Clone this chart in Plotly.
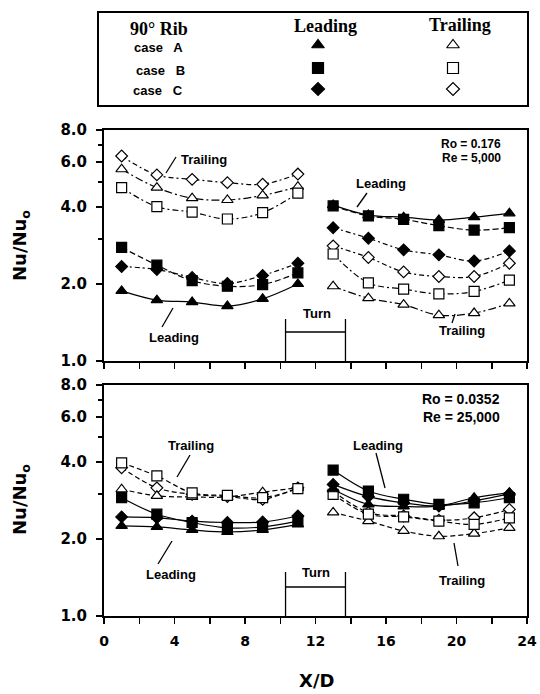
import math
import plotly.graph_objects as go

W, H = 540, 694

# ---------------- data ----------------
x_pos = [1, 3, 5, 7, 9, 11, 13, 15, 17, 19, 21, 23]

# Top panel: Ro = 0.176, Re = 5,000
top_lead_A = [1.88, 1.73, 1.70, 1.64, 1.75, 2.00, 4.07, 3.72, 3.65, 3.56, 3.65, 3.78]
top_lead_B = [2.78, 2.37, 2.06, 1.96, 1.99, 2.21, 4.04, 3.69, 3.58, 3.38, 3.25, 3.32]
top_lead_C = [2.34, 2.28, 2.12, 2.01, 2.16, 2.41, 3.32, 3.02, 2.72, 2.60, 2.46, 2.69]
top_trail_A = [5.62, 4.76, 4.33, 4.26, 4.44, 4.80, 1.96, 1.76, 1.66, 1.51, 1.54, 1.68]
top_trail_B = [4.76, 4.01, 3.82, 3.59, 3.80, 4.53, 2.62, 2.02, 1.91, 1.83, 1.87, 2.07]
top_trail_C = [6.33, 5.34, 5.13, 4.98, 4.91, 5.38, 2.82, 2.54, 2.23, 2.14, 2.14, 2.41]

# Bottom panel: Ro = 0.0352, Re = 25,000
bot_lead_A = [2.25, 2.23, 2.17, 2.13, 2.17, 2.28, 3.13, 2.73, 2.68, 2.69, 2.90, 3.03]
bot_lead_B = [2.90, 2.50, 2.32, 2.21, 2.23, 2.35, 3.72, 3.08, 2.86, 2.73, 2.77, 2.90]
bot_lead_C = [2.44, 2.42, 2.35, 2.32, 2.33, 2.46, 3.27, 2.93, 2.77, 2.69, 2.82, 3.00]
bot_trail_A = [3.13, 2.95, 2.92, 2.92, 3.05, 3.17, 2.54, 2.35, 2.15, 2.05, 2.10, 2.21]
bot_trail_B = [3.97, 3.53, 3.03, 2.96, 2.90, 3.15, 2.99, 2.50, 2.44, 2.35, 2.28, 2.42]
bot_trail_C = [3.80, 3.17, 2.99, 2.93, 2.86, 3.17, 3.08, 2.54, 2.46, 2.37, 2.42, 2.61]

turn_x = [10.3, 13.7]

x_major = [0, 4, 8, 12, 16, 20, 24]
x_major_text = ["0", "4", "8", "12", "16", "20", "24"]
x_minor = [2, 6, 10, 14, 18, 22]
y_major = [1, 2, 4, 6, 8]
y_major_text = ["1.0", "2.0", "4.0", "6.0", "8.0"]
y_minor = [3, 5, 7]

# ---------------- helpers ----------------
def px(x):
    return x / W

def py(y):
    return 1 - y / H

def split(vals):
    return vals[:6] + [None] + vals[6:]

xs = split(x_pos)

SYM = {"A": "triangle-up", "B": "square", "C": "diamond"}
SIZE = {"A": 10, "B": 10, "C": 9}

fig = go.Figure()

def add_series(vals, case, filled, dash, xa, ya):
    fig.add_trace(go.Scatter(
        x=xs, y=split(vals), xaxis=xa, yaxis=ya, mode="lines+markers",
        line=dict(color="black", width=1.2, dash=dash, shape="spline", smoothing=1.0),
        marker=dict(symbol=SYM[case], size=SIZE[case],
                    color="black" if filled else "white",
                    line=dict(color="black", width=1.2)),
        connectgaps=False, showlegend=False, hoverinfo="skip"))

# top panel
add_series(top_trail_C, "C", False, "5px,3px,2px,3px", "x", "y")
add_series(top_trail_A, "A", False, "8px,3px,2px,3px", "x", "y")
add_series(top_trail_B, "B", False, "6px,3px,2px,3px", "x", "y")
add_series(top_lead_C, "C", True, "5px,3px,2px,3px", "x", "y")
add_series(top_lead_B, "B", True, "6px,3px", "x", "y")
add_series(top_lead_A, "A", True, "solid", "x", "y")

# bottom panel
add_series(bot_trail_C, "C", False, "5px,3px", "x2", "y2")
add_series(bot_trail_A, "A", False, "5px,3px", "x2", "y2")
add_series(bot_trail_B, "B", False, "5px,3px", "x2", "y2")
add_series(bot_lead_C, "C", True, "solid", "x2", "y2")
add_series(bot_lead_B, "B", True, "solid", "x2", "y2")
add_series(bot_lead_A, "A", True, "solid", "x2", "y2")

# legend markers on a page-pixel overlay axis
leg_cols = [318, 453]
leg_rows = [45, 68, 89]
for i, case in enumerate(["A", "B", "C"]):
    for j, filled in enumerate([True, False]):
        fig.add_trace(go.Scatter(
            x=[leg_cols[j]], y=[leg_rows[i]], xaxis="x3", yaxis="y3", mode="markers",
            marker=dict(symbol=SYM[case], size=SIZE[case] + 1,
                        color="black" if filled else "white",
                        line=dict(color="black", width=1.2)),
            showlegend=False, hoverinfo="skip"))

TF = dict(family="DejaVu Sans", size=14, color="black", weight="bold")
xa_common = dict(range=[0, 24], tickmode="array", tickvals=x_major, ticktext=x_major_text,
                 ticks="outside", ticklen=6, tickwidth=1.5, tickcolor="black",
                 minor=dict(tickmode="array", tickvals=x_minor, ticks="outside", ticklen=6,
                            tickwidth=1.5, tickcolor="black", showgrid=False),
                 showline=True, mirror=True, linewidth=2, linecolor="black",
                 showgrid=False, zeroline=False, domain=[px(104), px(527)], automargin=False,
                 tickfont=TF)
ya_common = dict(type="log", range=[0, math.log10(8)], tickmode="array", tickvals=y_major,
                 ticktext=y_major_text, ticks="outside", ticklen=6, tickwidth=1.5,
                 tickcolor="black",
                 minor=dict(tickmode="array", tickvals=y_minor, ticks="outside", ticklen=4,
                            tickwidth=1.5, tickcolor="black", showgrid=False),
                 showline=True, mirror=True, linewidth=2, linecolor="black", showgrid=False,
                 zeroline=False, automargin=False, ticklabelstandoff=6,
                 tickfont=dict(family="DejaVu Sans", size=15, color="black", weight="bold"))

fig.update_layout(
    width=W, height=H, margin=dict(l=0, r=0, t=0, b=0),
    paper_bgcolor="white", plot_bgcolor="rgba(0,0,0,0)",
    xaxis=dict(**xa_common, anchor="y", showticklabels=False),
    yaxis=dict(**ya_common, anchor="x", domain=[py(361), py(130)]),
    xaxis2=dict(**xa_common, anchor="y2", ticklabelstandoff=5),
    yaxis2=dict(**ya_common, anchor="x2", domain=[py(616), py(385)]),
    xaxis3=dict(domain=[0, 1], range=[0, W], visible=False, anchor="y3", fixedrange=True),
    yaxis3=dict(domain=[0, 1], range=[H, 0], visible=False, anchor="x3", fixedrange=True),
)

shapes = []
def seg(x0, y0, x1, y1, w=1.3):
    shapes.append(dict(type="line", xref="paper", yref="paper",
                       x0=px(x0), y0=py(y0), x1=px(x1), y1=py(y1),
                       line=dict(color="black", width=w)))

# legend box
shapes.append(dict(type="rect", xref="paper", yref="paper", x0=px(98), y0=py(12),
                   x1=px(528), y1=py(106), line=dict(color="black", width=2)))

# turn boxes (x in data units)
for xr, top_v, hor_v, base_v in [("x", 319, 332, 361), ("x2", 572, 587, 616)]:
    for tx in turn_x:
        shapes.append(dict(type="line", xref=xr, yref="paper", x0=tx, x1=tx,
                           y0=py(top_v), y1=py(base_v), line=dict(color="black", width=1.3)))
    shapes.append(dict(type="line", xref=xr, yref="paper", x0=turn_x[0], x1=turn_x[1],
                       y0=py(hor_v), y1=py(hor_v), line=dict(color="black", width=1.3)))

# leader lines
seg(176, 157, 166, 173)   # top Trailing
seg(162, 327, 173, 308)   # top Leading (left)
seg(367, 193, 357, 207)   # top Leading (right)
seg(455, 314, 452, 323)   # top Trailing (right)
seg(190, 455, 177, 477)   # bottom Trailing (left)
seg(376, 453, 385, 488)   # bottom Leading (right)
seg(158, 564, 172, 541)   # bottom Leading (left)
seg(458, 566, 454, 543)   # bottom Trailing (right)

anns = []
def txt(t, x, y, size=13, family="Liberation Sans", bold=True, xanchor="center",
        yanchor="middle", angle=0):
    anns.append(dict(text=t, x=px(x), y=py(y), xref="paper", yref="paper",
                     xanchor=xanchor, yanchor=yanchor, showarrow=False, textangle=angle,
                     borderpad=0,
                     font=dict(family=family, size=size, color="black",
                               weight="bold" if bold else "normal")))

# legend texts
txt("90° Rib", 159, 29, size=18, family="Liberation Serif")
txt("Leading", 325, 26, size=18, family="Liberation Serif")
txt("Trailing", 460, 25, size=18, family="Liberation Serif")
txt("case   A", 158, 48, size=13)
txt("case   B", 160, 70, size=13)
txt("case   C", 158, 91, size=13)

# top panel labels
txt("Trailing", 204, 159)
txt("Leading", 174, 337)
txt("Leading", 381, 183)
txt("Trailing", 462, 330)
txt("Ro = 0.176", 502, 144, size=12, xanchor="right")
txt("Re = 5,000", 502, 158, size=12, xanchor="right")
txt("Turn", 317, 313, size=13)

# bottom panel labels
txt("Trailing", 191, 446)
txt("Leading", 378, 445)
txt("Leading", 171, 574)
txt("Trailing", 462, 580)
txt("Ro = 0.0352", 501, 399, size=14, xanchor="right")
txt("Re = 25,000", 501, 417, size=14, xanchor="right")
txt("Turn", 316, 572, size=13)

# axis titles
txt("Nu/Nu<sub>o</sub>", 21, 246, size=18, family="DejaVu Sans", angle=-90)
txt("Nu/Nu<sub>o</sub>", 21, 500, size=18, family="DejaVu Sans", angle=-90)
txt("X/D", 316, 692, size=18, family="DejaVu Sans", yanchor="bottom")

fig.update_layout(shapes=shapes, annotations=anns)
fig.write_html("out.html", config={"displayModeBar": False, "staticPlot": True},
               post_script="document.body.style.margin='0px';"
                           "document.body.style.overflow='hidden';")
